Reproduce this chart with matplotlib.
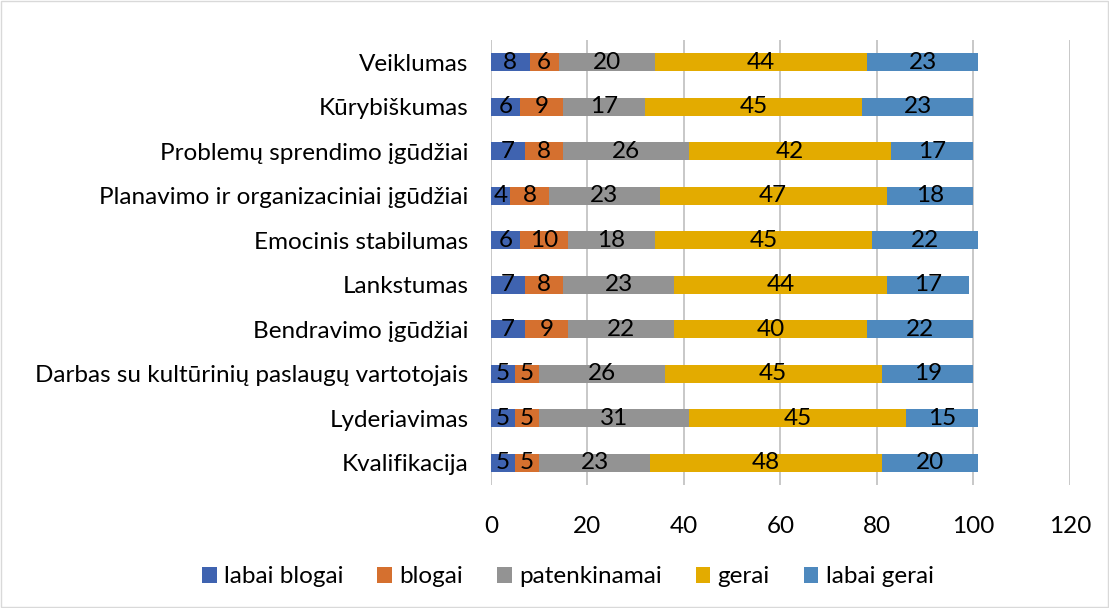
import matplotlib
matplotlib.use("Agg")
import matplotlib.pyplot as plt
import numpy as np

categories = ["Kvalifikacija", "Lyderiavimas", "Darbas su kultūrinių paslaugų vartotojais",
              "Bendravimo įgūdžiai", "Lankstumas", "Emocinis stabilumas",
              "Planavimo ir organizaciniai įgūdžiai", "Problemų sprendimo įgūdžiai",
              "Kūrybiškumas", "Veiklumas"]
series_names = ["labai blogai", "blogai", "patenkinamai", "gerai", "labai gerai"]
labai_blogai = [5, 5, 5, 7, 7, 6, 4, 7, 6, 8]
blogai = [5, 5, 5, 9, 8, 10, 8, 8, 9, 6]
patenkinamai = [23, 31, 26, 22, 23, 18, 23, 26, 17, 20]
gerai = [48, 45, 45, 40, 44, 45, 47, 42, 45, 44]
labai_gerai = [20, 15, 19, 22, 17, 22, 18, 17, 23, 23]
xticks = [0, 20, 40, 60, 80, 100, 120]

colors = ["#3F63B0", "#D5702F", "#939393", "#E3AB00", "#4E89BE"]

plt.rcParams['font.family'] = ['Lato', 'DejaVu Sans']
FS = 17.5

fig = plt.figure(figsize=(11.09, 6.08), dpi=100)
ax = fig.add_axes([0.4427, 0.2023, 0.5221, 0.7317])

y = np.arange(len(categories))
left = np.zeros(len(categories))
for name, vals, c in zip(series_names, [labai_blogai, blogai, patenkinamai, gerai, labai_gerai], colors):
    vals = np.array(vals, dtype=float)
    bars = ax.barh(y, vals, left=left, height=0.4, color=c, label=name, zorder=3)
    ax.bar_label(bars, labels=[str(int(v)) for v in vals], label_type='center',
                 fontsize=FS, color='black', zorder=4)
    left += vals

ax.set_xlim(0, 120)
ax.set_ylim(-0.5, len(categories) - 0.5)
ax.set_xticks(xticks)
ax.set_xticklabels([str(t) for t in xticks], fontsize=FS)
ax.set_yticks(y)
ax.set_yticklabels(categories, fontsize=FS)
ax.tick_params(axis='both', length=0)
ax.tick_params(axis='x', pad=22)
ax.tick_params(axis='y', pad=16)
ax.grid(axis='x', color='#BFBFBF', linewidth=1.2, zorder=0)
for s in ax.spines.values():
    s.set_visible(False)

ax.legend(loc='center', bbox_to_anchor=(0.512, 0.051), bbox_transform=fig.transFigure,
          ncol=5, frameon=False, fontsize=FS, handlelength=0.6, handleheight=0.6,
          handletextpad=0.3, columnspacing=1.4)

fig.patches.append(plt.Rectangle((0.001, 0.001), 0.998, 0.998, transform=fig.transFigure,
                                 fill=False, edgecolor='#D9D9D9', linewidth=1))
fig.savefig("out.png", dpi=100)
